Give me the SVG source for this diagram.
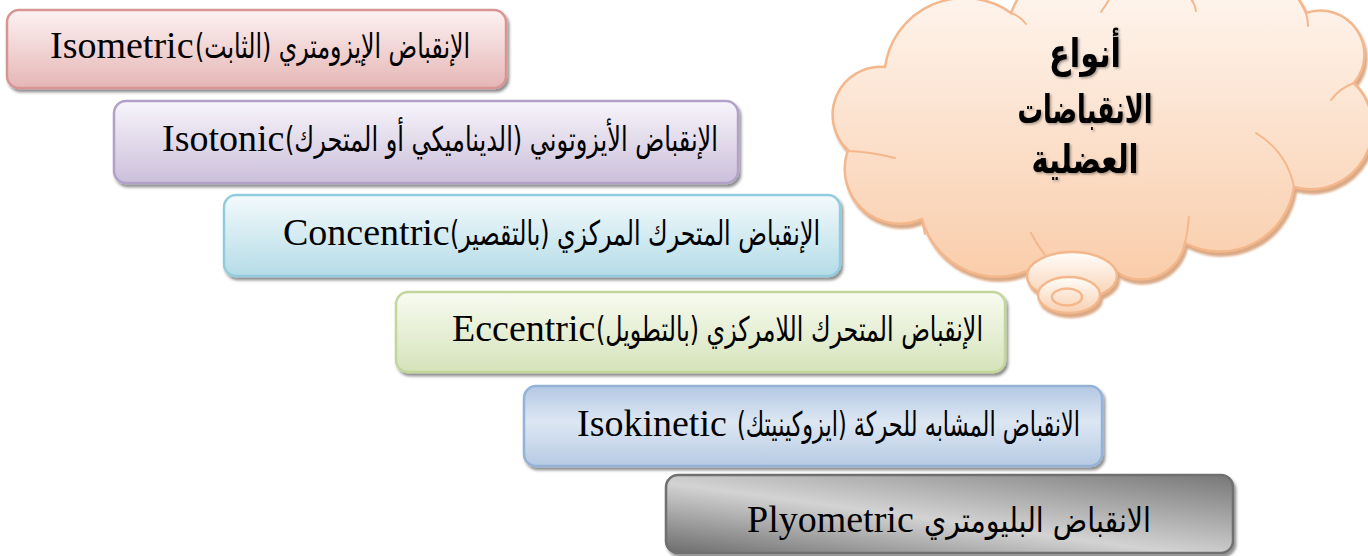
<svg xmlns="http://www.w3.org/2000/svg" width="1368" height="556" viewBox="0 0 1368 556">
  <defs>
    <style>
      .lat { font-family: "Liberation Serif", "Times New Roman", serif; font-size: 38px; fill: #000; }
      .ar { font-family: "DejaVu Sans", "Noto Sans", sans-serif; font-size: 34px; fill: #000; }
      .title { font-family: "DejaVu Sans", "Noto Sans", sans-serif; font-size: 40px; font-weight: bold; fill: #000; }
      .box { stroke-width: 2.5; }
      .crease { fill: none; stroke: #f4b78c; stroke-width: 2; stroke-linecap: round; }
      .puff { stroke: #f4b78c; stroke-width: 2.5; }
    </style>
    <filter id="boxShadow" x="-5%" y="-10%" width="112%" height="130%">
      <feDropShadow dx="2" dy="3" stdDeviation="1.4" flood-color="#000" flood-opacity="0.45"/>
    </filter>
    <filter id="cloudShadow" x="-5%" y="-5%" width="112%" height="115%">
      <feDropShadow dx="2" dy="4" stdDeviation="0.8" flood-color="#d49a70" flood-opacity="0.85"/>
    </filter>
    <filter id="textShadow" x="-10%" y="-20%" width="120%" height="150%">
      <feDropShadow dx="1.5" dy="1.5" stdDeviation="0.8" flood-color="#000" flood-opacity="0.35"/>
    </filter>
    <linearGradient id="gRose" x1="0" y1="0" x2="0" y2="1">
      <stop offset="0" stop-color="#fdf2f2"/>
      <stop offset="1" stop-color="#e5b6b5"/>
    </linearGradient>
    <linearGradient id="gLilac" x1="0" y1="0" x2="0" y2="1">
      <stop offset="0" stop-color="#f8f5fb"/>
      <stop offset="1" stop-color="#cbbfda"/>
    </linearGradient>
    <linearGradient id="gAqua" x1="0" y1="0" x2="0" y2="1">
      <stop offset="0" stop-color="#f3fafc"/>
      <stop offset="1" stop-color="#b5dce7"/>
    </linearGradient>
    <linearGradient id="gOlive" x1="0" y1="0" x2="0" y2="1">
      <stop offset="0" stop-color="#f8fbf1"/>
      <stop offset="1" stop-color="#d5e3ba"/>
    </linearGradient>
    <linearGradient id="gBlue" x1="0" y1="0" x2="0" y2="1">
      <stop offset="0" stop-color="#b3c8e3"/>
      <stop offset="0.45" stop-color="#dde7f3"/>
      <stop offset="1" stop-color="#b6cae3"/>
    </linearGradient>
    <linearGradient id="gGrey" x1="0" y1="1" x2="1" y2="0">
      <stop offset="0" stop-color="#6c6c6c"/>
      <stop offset="0.45" stop-color="#d3d3d3"/>
      <stop offset="1" stop-color="#777777"/>
    </linearGradient>
    <linearGradient id="gPeach" x1="0" y1="0" x2="0" y2="1">
      <stop offset="0" stop-color="#fffaf7"/>
      <stop offset="1" stop-color="#f9cca9"/>
    </linearGradient>
    <linearGradient id="gPuff" x1="0" y1="0" x2="0" y2="1">
      <stop offset="0" stop-color="#fffdfb"/>
      <stop offset="1" stop-color="#f9cfae"/>
    </linearGradient>
  </defs>

  <rect width="1368" height="556" fill="#ffffff"/>

  <!-- thought cloud with title -->
  <g id="cloud">
    <g filter="url(#cloudShadow)">
      <path fill="url(#gPeach)" stroke="#f4b78c" stroke-width="2.5"
            d="M885,67 A80,80 0 0 1 1011,13 A100,100 0 0 1 1192,0 A65,65 0 0 1 1306,13
               A44,44 0 0 1 1354,83 A62,62 0 0 1 1294,187 A75,75 0 0 1 1185,243
               A45,45 0 0 1 1112,269 A45,45 0 0 1 1040,264 A78,78 0 0 1 922,219
               A55,55 0 0 1 848,150 A48,48 0 0 1 885,67 Z"/>
    </g>
    <path class="crease" d="M1011,13 Q1020,16 1026,24"/>
    <path class="crease" d="M1101,12 Q1106,5 1110,-2"/>
    <path class="crease" d="M1192,0 Q1195,5 1196,11"/>
    <path class="crease" d="M1306,13 Q1308,19 1308,26"/>
    <path class="crease" d="M1354,83 Q1340,88 1331,100"/>
    <path class="crease" d="M1256,133 Q1287,152 1294,187"/>
    <path class="crease" d="M1189,217 Q1188,230 1185,243"/>
    <path class="crease" d="M1031,233 Q1037,245 1045,255"/>
    <path class="crease" d="M922,219 Q923,226 925,234"/>
    <path class="crease" d="M848,151 Q872,152 895,158"/>
    <g filter="url(#cloudShadow)">
      <ellipse class="puff" cx="1072" cy="276" rx="45" ry="24" fill="url(#gPuff)"/>
      <ellipse class="puff" cx="1069" cy="295" rx="31" ry="18" fill="url(#gPuff)"/>
    </g>
    <ellipse class="puff" cx="1067" cy="297" rx="15" ry="8.5" fill="none"/>
    <g filter="url(#textShadow)">
      <text class="title" x="1085" y="67" text-anchor="middle" direction="rtl" textLength="72" lengthAdjust="spacingAndGlyphs">أنواع</text>
      <text class="title" x="1085" y="123" text-anchor="middle" direction="rtl" textLength="135" lengthAdjust="spacingAndGlyphs">الانقباضات</text>
      <text class="title" x="1085" y="173" text-anchor="middle" direction="rtl" textLength="107" lengthAdjust="spacingAndGlyphs">العضلية</text>
    </g>
  </g>

  <!-- contraction types -->
  <g id="isometric">
    <rect class="box" x="7" y="10" width="499" height="78" rx="12" fill="url(#gRose)" stroke="#d99594" filter="url(#boxShadow)"/>
    <text class="lat" x="50" y="58">Isometric</text>
    <text class="ar" x="332.5" y="58" text-anchor="middle" direction="rtl" textLength="275" lengthAdjust="spacingAndGlyphs">الإنقباض الإيزومتري (الثابت)</text>
  </g>

  <g id="isotonic">
    <rect class="box" x="114" y="101" width="624" height="82" rx="12" fill="url(#gLilac)" stroke="#b3a2c7" filter="url(#boxShadow)"/>
    <text class="lat" x="162" y="151">Isotonic</text>
    <text class="ar" x="501.5" y="151" text-anchor="middle" direction="rtl" textLength="433" lengthAdjust="spacingAndGlyphs">الإنقباض الأيزوتوني (الديناميكي أو المتحرك)</text>
  </g>

  <g id="concentric">
    <rect class="box" x="224" y="195" width="616" height="81" rx="12" fill="url(#gAqua)" stroke="#93cddd" filter="url(#boxShadow)"/>
    <text class="lat" x="283" y="245">Concentric</text>
    <text class="ar" x="635" y="245" text-anchor="middle" direction="rtl" textLength="370" lengthAdjust="spacingAndGlyphs">الإنقباض المتحرك المركزي (بالتقصير)</text>
  </g>

  <g id="eccentric">
    <rect class="box" x="396" y="292" width="609" height="80" rx="12" fill="url(#gOlive)" stroke="#c3d69b" filter="url(#boxShadow)"/>
    <text class="lat" x="452" y="341">Eccentric</text>
    <text class="ar" x="789.5" y="341" text-anchor="middle" direction="rtl" textLength="387" lengthAdjust="spacingAndGlyphs">الإنقباض المتحرك اللامركزي (بالتطويل)</text>
  </g>

  <g id="isokinetic">
    <rect class="box" x="524" y="386" width="578" height="80" rx="12" fill="url(#gBlue)" stroke="#95b3d7" filter="url(#boxShadow)"/>
    <text class="lat" x="577" y="436">Isokinetic</text>
    <text class="ar" x="908.5" y="436" text-anchor="middle" direction="rtl" textLength="343" lengthAdjust="spacingAndGlyphs">الانقباض المشابه للحركة (ايزوكينيتك)</text>
  </g>

  <g id="plyometric">
    <rect class="box" x="666" y="475" width="567" height="78" rx="12" fill="url(#gGrey)" stroke="#6f6f6f" filter="url(#boxShadow)"/>
    <text class="lat" x="747" y="532">Plyometric</text>
    <text class="ar" x="1037.5" y="532" text-anchor="middle" direction="rtl" textLength="227" lengthAdjust="spacingAndGlyphs">الانقباض البليومتري</text>
  </g>

  <g id="connectors"/>
</svg>
